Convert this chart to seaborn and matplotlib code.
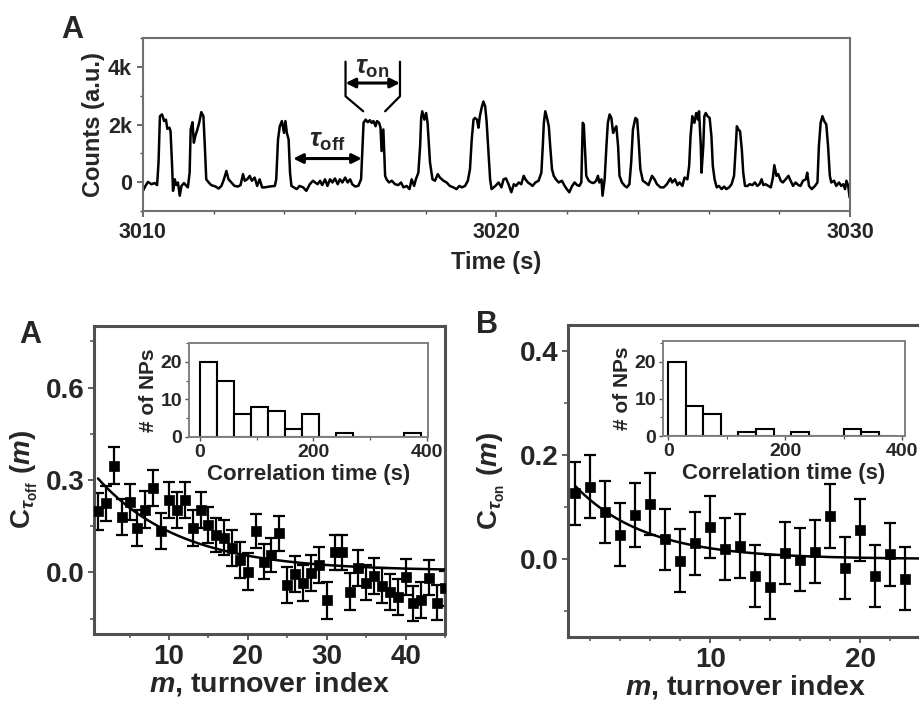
import numpy as np
import pandas as pd
import matplotlib
matplotlib.use('Agg')
import matplotlib.pyplot as plt
import seaborn as sns
from matplotlib.ticker import MultipleLocator, FuncFormatter

# ---------------- data ----------------
trace_time = [
    3010.00, 3010.07, 3010.14, 3010.24, 3010.33, 3010.40, 3010.44, 3010.48, 3010.54, 3010.60,
    3010.65, 3010.69, 3010.75, 3010.78, 3010.82, 3010.85, 3010.90, 3010.94, 3010.99, 3011.04,
    3011.09, 3011.16, 3011.23, 3011.27, 3011.32, 3011.35, 3011.40, 3011.44, 3011.48, 3011.54,
    3011.59, 3011.65, 3011.71, 3011.75, 3011.79, 3011.86, 3011.93, 3012.05, 3012.14, 3012.22,
    3012.29, 3012.36, 3012.42, 3012.50, 3012.59, 3012.69, 3012.76, 3012.83, 3012.88, 3012.95,
    3013.02, 3013.08, 3013.16, 3013.23, 3013.30, 3013.37, 3013.44, 3013.58, 3013.73, 3013.77,
    3013.82, 3013.87, 3013.93, 3013.99, 3014.03, 3014.07, 3014.12, 3014.16, 3014.20, 3014.27,
    3014.35, 3014.43, 3014.53, 3014.62, 3014.72, 3014.81, 3014.87, 3014.94, 3015.01, 3015.07,
    3015.15, 3015.22, 3015.29, 3015.36, 3015.43, 3015.51, 3015.57, 3015.64, 3015.72, 3015.79,
    3015.86, 3015.92, 3016.00, 3016.09, 3016.17, 3016.21, 3016.24, 3016.30, 3016.36, 3016.42,
    3016.47, 3016.52, 3016.58, 3016.62, 3016.68, 3016.72, 3016.75, 3016.80, 3016.85, 3016.89,
    3016.96, 3017.04, 3017.13, 3017.22, 3017.30, 3017.37, 3017.46, 3017.54, 3017.60, 3017.67,
    3017.72, 3017.79, 3017.84, 3017.87, 3017.90, 3017.96, 3018.01, 3018.05, 3018.12, 3018.19,
    3018.26, 3018.34, 3018.40, 3018.50, 3018.59, 3018.68, 3018.78, 3018.87, 3018.95, 3019.02,
    3019.11, 3019.19, 3019.25, 3019.30, 3019.35, 3019.39, 3019.45, 3019.49, 3019.53, 3019.58,
    3019.63, 3019.68, 3019.72, 3019.77, 3019.82, 3019.86, 3019.97, 3020.06, 3020.14, 3020.20,
    3020.27, 3020.34, 3020.42, 3020.49, 3020.55, 3020.63, 3020.70, 3020.77, 3020.82, 3020.89,
    3020.96, 3021.02, 3021.10, 3021.19, 3021.27, 3021.31, 3021.34, 3021.38, 3021.43, 3021.48,
    3021.52, 3021.57, 3021.62, 3021.68, 3021.76, 3021.85, 3021.93, 3021.99, 3022.06, 3022.14,
    3022.21, 3022.28, 3022.34, 3022.40, 3022.44, 3022.47, 3022.50, 3022.54, 3022.61, 3022.68,
    3022.75, 3022.82, 3022.87, 3022.91, 3022.97, 3023.00, 3023.06, 3023.11, 3023.15, 3023.20,
    3023.25, 3023.30, 3023.34, 3023.39, 3023.44, 3023.48, 3023.55, 3023.63, 3023.69, 3023.76,
    3023.81, 3023.86, 3023.93, 3023.98, 3024.02, 3024.07, 3024.14, 3024.21, 3024.30, 3024.40,
    3024.47, 3024.54, 3024.64, 3024.73, 3024.82, 3024.92, 3024.97, 3025.05, 3025.12, 3025.18,
    3025.26, 3025.32, 3025.40, 3025.45, 3025.49, 3025.54, 3025.60, 3025.65, 3025.70, 3025.73,
    3025.78, 3025.80, 3025.85, 3025.88, 3025.92, 3025.97, 3026.03, 3026.08, 3026.12, 3026.17,
    3026.23, 3026.29, 3026.37, 3026.44, 3026.50, 3026.58, 3026.65, 3026.72, 3026.77, 3026.80,
    3026.84, 3026.89, 3026.94, 3026.98, 3027.03, 3027.10, 3027.16, 3027.24, 3027.31, 3027.38,
    3027.44, 3027.50, 3027.55, 3027.61, 3027.69, 3027.76, 3027.82, 3027.86, 3027.92, 3027.97,
    3028.04, 3028.10, 3028.18, 3028.26, 3028.32, 3028.39, 3028.46, 3028.54, 3028.60, 3028.67,
    3028.75, 3028.79, 3028.84, 3028.92, 3029.01, 3029.08, 3029.12, 3029.17, 3029.22, 3029.27,
    3029.33, 3029.38, 3029.43, 3029.47, 3029.55, 3029.61, 3029.69, 3029.75, 3029.81, 3029.86,
    3029.90, 3029.95, 3029.99,
]
trace_counts = [
    -300, -130, 10, -70, -30, -100, 680, 2290, 2350, 2120,
    2170, 1850, 1890, 1770, 680, -300, 100, -100, -10, -470,
    -130, -30, -130, -180, 330, 1830, 2080, 1370, 1600, 1830,
    2060, 2430, 2290, 1250, 100, -10, -100, -150, -220, -130,
    100, 390, 100, -10, -130, -150, -100, 280, 50, 100,
    220, 50, 160, -130, 100, -180, -180, -150, -130, 100,
    1480, 1940, 2120, 1710, 2120, 1710, 1480, 330, -130, -180,
    -240, -130, -180, -300, -70, 50, -10, -70, 50, -100,
    100, -130, 100, -10, 130, -70, 100, -10, 160, -10,
    100, -70, -150, -130, 100, 1250, 2060, 2170, 2080, 2150,
    2060, 2120, 1940, 2120, 2060, 1890, 1080, 1830, 220, 100,
    -10, 50, -70, -100, -10, -180, -130, -240, 100, -130,
    100, 330, 1250, 2230, 2460, 2170, 2400, 2060, 680, 100,
    50, 280, 160, 50, -10, -130, -180, -240, -130, -180,
    -130, 50, 450, 1480, 2170, 2230, 2170, 1890, 2290, 2580,
    2800, 2630, 2120, 1140, 100, -240, -130, -10, -180, 100,
    130, -70, -350, -70, -130, -10, -70, 220, 100, -10,
    -70, -130, -10, 50, 330, 1250, 2060, 2460, 2230, 1940,
    1250, 450, 220, 100, -10, 50, -130, -240, -350, -130,
    -10, -100, -130, -10, 2060, 2000, 1250, 220, 50, -10,
    -30, 50, 220, -10, 100, -470, 100, 1250, 2060, 2350,
    2230, 1710, 1830, 1940, 1250, 220, -10, -130, -180, -70,
    680, 1830, 2230, 2170, 1480, 450, 50, -10, -100, 220,
    100, -70, -180, -180, -70, 130, -10, 100, -100, -10,
    -130, 160, 100, 560, 1600, 2290, 2060, 2400, 2170, 2460,
    1250, 330, 1250, 2290, 2400, 2290, 2230, 1600, 560, 100,
    -180, -130, -240, -150, -240, -180, -70, 220, 1250, 1940,
    1830, 1770, 1140, 330, -130, -130, -70, -100, -10, -130,
    -70, 100, -100, -70, -130, -180, 160, 590, 220, 280,
    50, -10, 100, 220, 50, -130, -10, -100, -130, 50,
    100, 330, -130, -240, -130, -10, 1250, 2060, 2290, 2120,
    2000, 1250, 220, -10, 50, -130, -10, -130, -70, -240,
    50, -130, -530,
]

# C_tau_off(m): turnover index, correlation, error
m_off = list(range(1, 46))
c_off = [0.199, 0.224, 0.346, 0.181, 0.228, 0.143, 0.203, 0.273, 0.135, 0.235,
         0.203, 0.235, 0.143, 0.203, 0.154, 0.121, 0.113, 0.078, 0.040, 0.002,
         0.134, 0.035, 0.056, 0.127, -0.041, -0.006, -0.034, -0.003, 0.024, -0.090,
         0.065, 0.065, -0.063, 0.015, -0.033, -0.011, -0.043, -0.063, -0.079, -0.014,
         -0.101, -0.090, -0.017, -0.098, -0.052]
c_off_err = [0.060, 0.058, 0.060, 0.058, 0.058, 0.058, 0.060, 0.058, 0.058, 0.058,
             0.058, 0.058, 0.058, 0.058, 0.058, 0.056, 0.056, 0.058, 0.058, 0.060,
             0.056, 0.058, 0.056, 0.057, 0.058, 0.058, 0.058, 0.058, 0.058, 0.060,
             0.056, 0.056, 0.060, 0.058, 0.058, 0.058, 0.058, 0.058, 0.058, 0.058,
             0.058, 0.058, 0.058, 0.058, 0.058]

# C_tau_on(m)
m_on = list(range(1, 24))
c_on = [0.126, 0.139, 0.090, 0.047, 0.085, 0.106, 0.038, -0.003, 0.030, 0.062,
        0.019, 0.025, -0.033, -0.054, 0.012, -0.001, 0.014, 0.083, -0.017, 0.056,
        -0.033, 0.009, -0.038]
c_on_err = [0.060, 0.061, 0.060, 0.060, 0.061, 0.060, 0.059, 0.061, 0.061, 0.060,
            0.060, 0.061, 0.059, 0.061, 0.060, 0.061, 0.061, 0.061, 0.060, 0.060,
            0.060, 0.061, 0.061]

# exponential fit parameters: y = offset + amp*exp(-m/tau)
fit_off_amp, fit_off_tau, fit_off_offset = 0.33, 10.5, 0.005
fit_on_amp, fit_on_tau, fit_on_offset = 0.173, 4.7, 0.0

# inset histograms (bin edges in s, counts = # of NPs)
hist_edges = [0, 30, 60, 90, 120, 150, 180, 210, 240, 270, 300, 330, 360, 390]
hist_off_counts = [20, 15, 6, 8, 7, 2, 6, 0, 1, 0, 0, 0, 1]
hist_on_counts = [20, 8, 6, 0, 1, 2, 0, 1, 0, 0, 2, 1, 0]

# ---------------- style ----------------
sns.set_style('ticks')
plt.rcParams['font.family'] = ['Liberation Sans', 'DejaVu Sans']
plt.rcParams['font.weight'] = 'bold'
plt.rcParams['axes.labelweight'] = 'bold'
plt.rcParams['mathtext.fontset'] = 'custom'
plt.rcParams['mathtext.rm'] = 'Liberation Sans'
plt.rcParams['mathtext.it'] = 'Liberation Sans:italic'
plt.rcParams['mathtext.bf'] = 'Liberation Sans:bold'
plt.rcParams['mathtext.bfit'] = 'Liberation Sans:italic:bold'

SPINE = '#505050'

fig = plt.figure(figsize=(9.2, 7.02), dpi=100)


def style_axes(ax, lw=1.6, color=SPINE):
    for s in ax.spines.values():
        s.set_visible(True)
        s.set_linewidth(lw)
        s.set_color(color)


# ---------------- top trace ----------------
ax_t = fig.add_axes([0.1554, 0.6994, 0.7685, 0.2464])
trace_df = pd.DataFrame({'Time': trace_time, 'Counts': trace_counts})
sns.lineplot(data=trace_df, x='Time', y='Counts', ax=ax_t, color='black',
             lw=1.8, sort=False, estimator=None)
ax_t.set_xlim(3010, 3030)
ax_t.set_ylim(-1000, 5000)
ax_t.set_xticks([3010, 3020, 3030])
ax_t.xaxis.set_minor_locator(MultipleLocator(2))
ax_t.set_yticks([0, 2000, 4000])
ax_t.yaxis.set_minor_locator(MultipleLocator(1000))
ax_t.yaxis.set_major_formatter(FuncFormatter(lambda v, p: '0' if v == 0 else f'{int(v / 1000)}k'))
ax_t.tick_params(axis='both', which='major', labelsize=15.5, length=4, width=1.2, color=SPINE, pad=4)
ax_t.tick_params(axis='both', which='minor', length=2.5, width=1.0, color=SPINE)
ax_t.set_xlabel('Time (s)', fontsize=17, labelpad=6)
ax_t.set_ylabel('Counts (a.u.)', fontsize=17, labelpad=2)
style_axes(ax_t, lw=1.5, color='#707070')

# annotations (tau_off / tau_on)
arrow_kw = dict(arrowstyle='<|-|>', lw=2.2, color='black', mutation_scale=14, shrinkA=0, shrinkB=0)
ax_t.annotate('', xy=(3016.19, 820), xytext=(3014.25, 820), arrowprops=arrow_kw)
ax_t.text(3015.20, 1420, r'$\tau_{\mathbf{off}}$', fontsize=19, ha='center', va='center')
ax_t.annotate('', xy=(3017.27, 3440), xytext=(3015.73, 3440), arrowprops=arrow_kw)
ax_t.text(3016.47, 3950, r'$\tau_{\mathbf{on}}$', fontsize=19, ha='center', va='center')
ax_t.plot([3015.73, 3015.73, 3016.23], [4180, 2980, 2460], color='black', lw=1.6)
ax_t.plot([3017.27, 3017.27, 3016.85], [4180, 2980, 2460], color='black', lw=1.6)

fig.text(0.079, 0.957, 'A', fontsize=22, fontweight='bold', ha='center', va='center')


# ---------------- bottom panels ----------------
def corr_panel(rect, m, c, err, amp, tau, off, xlim, ylim, yticks, yminor, xticks, xminor,
               ylabel, ylabelpad):
    ax = fig.add_axes(rect)
    ax.errorbar(m, c, yerr=err, fmt='none', ecolor='black', elinewidth=1.6,
                capsize=4, capthick=1.6, zorder=2)
    sns.scatterplot(x=m, y=c, ax=ax, marker='s', s=42, color='black',
                    edgecolor='black', linewidth=0.5, zorder=3)
    mm = np.linspace(1, xlim[1], 300)
    fit_df = pd.DataFrame({'m': mm, 'fit': off + amp * np.exp(-mm / tau)})
    sns.lineplot(data=fit_df, x='m', y='fit', ax=ax, color='black', lw=1.8, zorder=4)
    ax.set_xlim(*xlim)
    ax.set_ylim(*ylim)
    ax.set_yticks(yticks)
    ax.yaxis.set_minor_locator(MultipleLocator(yminor))
    ax.set_xticks(xticks)
    ax.xaxis.set_minor_locator(MultipleLocator(xminor))
    ax.yaxis.set_major_formatter(FuncFormatter(lambda v, p: f'{v:.1f}'))
    ax.tick_params(axis='both', which='major', labelsize=20, length=4, width=1.3, color=SPINE, pad=3)
    ax.tick_params(axis='both', which='minor', length=3, width=1.1, color=SPINE)
    ax.set_xlabel(r'$\mathbfit{m}$, turnover index', fontsize=20.5, labelpad=0)
    ax.set_ylabel(ylabel, fontsize=20, fontweight='normal', labelpad=ylabelpad)
    style_axes(ax, lw=2.2)
    return ax


ax_a = corr_panel([0.1022, 0.0969, 0.3815, 0.4387], m_off, c_off, c_off_err,
                  fit_off_amp, fit_off_tau, fit_off_offset,
                  (0.5, 45), (-0.2, 0.8), [0.0, 0.3, 0.6], 0.15, [10, 20, 30, 40], 5,
                  r'$\mathrm{C}_{\tau_{\mathrm{off}}}\ (m)$', 4)
ax_b = corr_panel([0.6174, 0.0926, 0.3860, 0.4444], m_on, c_on, c_on_err,
                  fit_on_amp, fit_on_tau, fit_on_offset,
                  (0.5, 24.2), (-0.15, 0.45), [0.0, 0.2, 0.4], 0.1, [10, 20], 2,
                  r'$\mathrm{C}_{\tau_{\mathrm{on}}}\ (m)$', 9)

fig.text(0.033, 0.523, 'A', fontsize=22, fontweight='bold', ha='center', va='center')
fig.text(0.529, 0.537, 'B', fontsize=22, fontweight='bold', ha='center', va='center')


# ---------------- insets ----------------
def inset_hist(rect, counts, xlim, ylim):
    ax = fig.add_axes(rect)
    centers = [(hist_edges[i] + hist_edges[i + 1]) / 2 for i in range(len(counts))]
    sns.histplot(x=centers, weights=counts, bins=hist_edges, ax=ax, stat='count',
                 color='white', edgecolor='black', linewidth=1.5, alpha=1.0)
    ax.set_xlim(*xlim)
    ax.set_ylim(*ylim)
    ax.set_xticks([0, 200, 400])
    ax.xaxis.set_minor_locator(MultipleLocator(100))
    ax.set_yticks([0, 10, 20])
    ax.yaxis.set_minor_locator(MultipleLocator(5))
    ax.tick_params(axis='both', which='major', labelsize=14, length=3, width=1.0, color=SPINE, pad=2)
    ax.tick_params(axis='both', which='minor', length=2, width=0.8, color=SPINE)
    ax.set_xlabel('Correlation time (s)', fontsize=16, labelpad=2)
    ax.set_ylabel('# of NPs', fontsize=15, labelpad=2)
    style_axes(ax, lw=1.4, color='#808080')
    return ax


inset_hist([0.2054, 0.3775, 0.2598, 0.1339], hist_off_counts, (-19, 402), (0, 25))
inset_hist([0.7207, 0.3789, 0.2630, 0.1353], hist_on_counts, (-9, 405), (0, 25.5))

fig.savefig('out.png', dpi=100)
